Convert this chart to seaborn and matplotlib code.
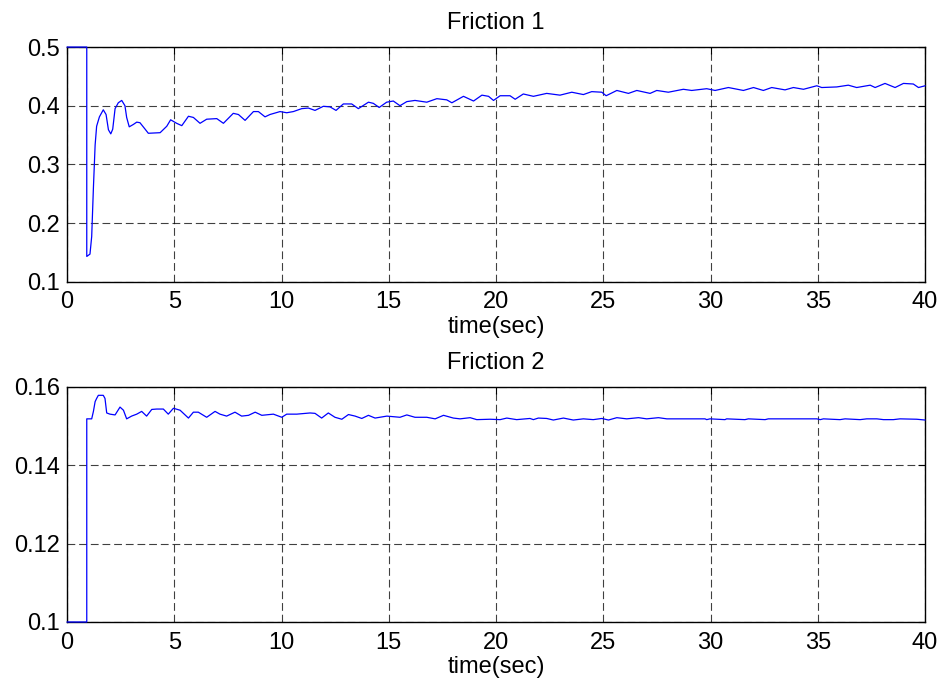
import matplotlib
matplotlib.use("Agg")
import matplotlib.pyplot as plt
import seaborn as sns
import pandas as pd

sns.set_theme(style="white")
plt.rcParams["font.family"] = ["Liberation Sans", "DejaVu Sans"]
plt.rcParams["text.color"] = "black"
plt.rcParams["axes.labelcolor"] = "black"
plt.rcParams["xtick.color"] = "black"
plt.rcParams["ytick.color"] = "black"

# Friction 1 estimate over time
t1 = [0.0, 0.92, 0.92, 1.07, 1.15, 1.23, 1.31, 1.38, 1.51, 1.69, 1.82, 1.93, 2.04,
      2.13, 2.24, 2.39, 2.55, 2.70, 2.78, 2.90, 3.09, 3.25, 3.40, 3.64, 3.79, 4.34,
      4.65, 4.83, 5.11, 5.35, 5.66, 5.89, 6.20, 6.51, 6.98, 7.29, 7.75, 7.99, 8.30,
      8.69, 8.92, 9.23, 9.46, 9.93, 10.24, 10.55, 10.94, 11.25, 11.56, 11.95, 12.26,
      12.54, 12.88, 13.27, 13.58, 14.05, 14.28, 14.55, 14.90, 15.21, 15.52, 15.84,
      16.22, 16.77, 17.24, 17.70, 17.94, 18.48, 18.95, 19.34, 19.65, 19.88, 20.19,
      20.65, 20.89, 21.27, 21.74, 22.36, 22.98, 23.53, 24.07, 24.46, 24.93, 25.13,
      25.63, 26.17, 26.56, 27.18, 27.49, 28.03, 28.73, 29.12, 29.82, 30.21, 30.83,
      31.53, 32.00, 32.46, 32.85, 33.47, 33.86, 34.33, 34.95, 35.18, 35.88, 36.42,
      36.81, 37.44, 37.67, 38.13, 38.60, 38.99, 39.45, 39.69, 40.0]
f1 = [0.5, 0.5, 0.143, 0.147, 0.177, 0.26, 0.333, 0.365, 0.381, 0.393, 0.385, 0.359,
      0.352, 0.36, 0.395, 0.405, 0.409, 0.40, 0.38, 0.364, 0.368, 0.372, 0.371, 0.36,
      0.353, 0.354, 0.365, 0.376, 0.37, 0.366, 0.382, 0.38, 0.37, 0.377, 0.378, 0.37,
      0.387, 0.385, 0.375, 0.39, 0.39, 0.381, 0.385, 0.39, 0.388, 0.39, 0.395, 0.396,
      0.392, 0.399, 0.398, 0.392, 0.403, 0.403, 0.395, 0.406, 0.404, 0.397, 0.406,
      0.408, 0.400, 0.407, 0.409, 0.406, 0.412, 0.410, 0.405, 0.416, 0.408, 0.418,
      0.416, 0.409, 0.417, 0.417, 0.411, 0.420, 0.416, 0.421, 0.418, 0.423, 0.419,
      0.424, 0.423, 0.417, 0.426, 0.421, 0.426, 0.421, 0.426, 0.423, 0.428, 0.426,
      0.429, 0.426, 0.431, 0.426, 0.431, 0.426, 0.431, 0.427, 0.431, 0.428, 0.434,
      0.431, 0.432, 0.435, 0.431, 0.435, 0.431, 0.438, 0.431, 0.438, 0.437, 0.431,
      0.434]

# Friction 2 estimate over time
t2 = [0.0, 0.92, 0.92, 1.15, 1.23, 1.31, 1.38, 1.46, 1.69, 1.77, 1.85, 2.00, 2.24,
      2.47, 2.63, 2.78, 3.01, 3.25, 3.48, 3.71, 3.95, 4.18, 4.49, 4.72, 4.96, 5.27,
      5.66, 5.89, 6.12, 6.51, 6.90, 7.13, 7.44, 7.83, 8.14, 8.46, 8.77, 9.08, 9.62,
      10.01, 10.24, 10.71, 11.33, 11.56, 11.87, 12.18, 12.49, 12.81, 13.12, 13.43,
      13.74, 14.05, 14.36, 14.91, 15.52, 15.84, 16.22, 16.77, 17.16, 17.55, 18.01,
      18.32, 18.79, 19.10, 19.72, 20.19, 20.50, 20.96, 21.58, 21.74, 21.97, 22.36,
      22.67, 23.14, 23.60, 24.07, 24.53, 24.93, 25.24, 25.63, 26.09, 26.64, 27.02,
      27.57, 27.96, 29.74, 29.82, 29.97, 30.67, 30.75, 31.60, 31.76, 32.54, 32.69,
      34.95, 35.11, 35.26, 36.03, 36.27, 36.97, 37.28, 37.75, 38.06, 38.52, 38.83,
      39.61, 40.0]
f2 = [0.1, 0.1, 0.1518, 0.1518, 0.1537, 0.1562, 0.157, 0.1578, 0.1578, 0.157,
      0.1533, 0.153, 0.1528, 0.1548, 0.154, 0.1518, 0.1525, 0.153, 0.1537, 0.1525,
      0.1542, 0.1543, 0.1543, 0.153, 0.1545, 0.154, 0.152, 0.1535, 0.1535, 0.1522,
      0.1537, 0.153, 0.1525, 0.1535, 0.1525, 0.1527, 0.1535, 0.1527, 0.153, 0.1522,
      0.153, 0.153, 0.1533, 0.1532, 0.1520, 0.1533, 0.1522, 0.1517, 0.1529, 0.1525,
      0.1519, 0.1527, 0.1520, 0.1525, 0.1522, 0.1528, 0.1522, 0.1522, 0.1518, 0.1527,
      0.1520, 0.1518, 0.1521, 0.1516, 0.1517, 0.1516, 0.1520, 0.1516, 0.1519, 0.1516,
      0.1520, 0.1519, 0.1515, 0.1520, 0.1515, 0.1518, 0.1516, 0.1519, 0.1515, 0.1521,
      0.1518, 0.1521, 0.1518, 0.1521, 0.1518, 0.1518, 0.1516, 0.1518, 0.1516, 0.1518,
      0.1516, 0.1518, 0.1516, 0.1518, 0.1518, 0.1516, 0.1518, 0.1516, 0.1518, 0.1516,
      0.1518, 0.1518, 0.1516, 0.1516, 0.1518, 0.1517, 0.1515]

x_ticks = [0, 5, 10, 15, 20, 25, 30, 35, 40]
y1_ticks = [0.1, 0.2, 0.3, 0.4, 0.5]
y2_ticks = [0.1, 0.12, 0.14, 0.16]
y2_labels = ["0.1", "0.12", "0.14", "0.16"]

FS = 17

fig = plt.figure(figsize=(9.44, 6.82), dpi=100)
ax1 = fig.add_axes([0.071, 0.587, 0.909, 0.344])
ax2 = fig.add_axes([0.071, 0.088, 0.909, 0.345])

df1 = pd.DataFrame({"t": t1, "f": f1})
df2 = pd.DataFrame({"t": t2, "f": f2})

for ax, df, yt, ylab, title in [
    (ax1, df1, y1_ticks, None, "Friction 1"),
    (ax2, df2, y2_ticks, y2_labels, "Friction 2"),
]:
    sns.lineplot(data=df, x="t", y="f", ax=ax, sort=False, estimator=None,
                 color="#0000ff", linewidth=0.9)
    for ln in ax.lines:
        ln.set_clip_on(False)
        ln.set_zorder(5)
    ax.set_xlim(0, 40)
    ax.set_ylim(yt[0], yt[-1])
    ax.set_xticks(x_ticks)
    ax.set_yticks(yt)
    if ylab is not None:
        ax.set_yticklabels(ylab)
    ax.set_ylabel("")
    ax.grid(True, color="black", linestyle=(0, (7, 3.5)), linewidth=0.8, alpha=0.75)
    ax.tick_params(direction="in", length=5, width=0.8, color="black",
                   labelcolor="black", top=True, right=True, labelsize=FS)
    ax.tick_params(axis="x", pad=7)
    ax.tick_params(axis="y", pad=5)
    ax.set_xlabel("time(sec)", fontsize=FS, labelpad=2, color="black")
    ax.set_title(title, fontsize=FS, pad=13, color="black")
    for s in ax.spines.values():
        s.set_color("black")
        s.set_linewidth(1.0)
        s.set_zorder(4)

fig.savefig("out.png", dpi=100, facecolor="white")
